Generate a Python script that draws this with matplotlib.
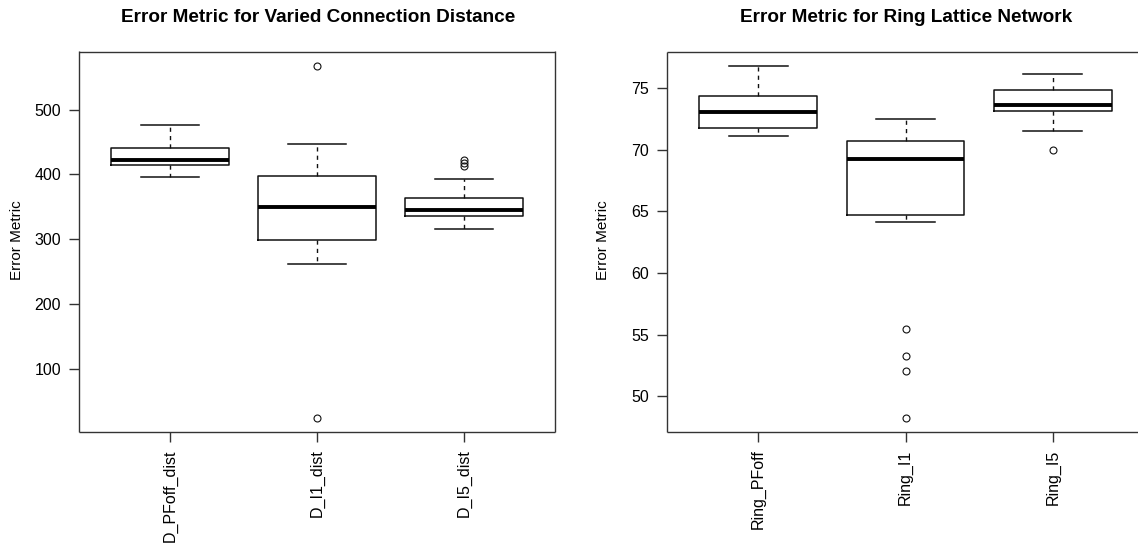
import numpy as np
import matplotlib.pyplot as plt

plt.rcParams['font.family'] = ['Liberation Sans', 'DejaVu Sans']

# DATA (box statistics)
dist_labels = ['D_PFoff_dist', 'D_I1_dist', 'D_I5_dist']
dist_whislo = [396, 261, 316]
dist_q1 = [414, 298.6, 335.6]
dist_med = [423, 349.4, 344.9]
dist_q3 = [440, 397, 363.5]
dist_whishi = [476, 447, 393]
dist_fliers = [[], [568, 24], [422, 418, 413]]

ring_labels = ['Ring_PFoff', 'Ring_I1', 'Ring_I5']
ring_whislo = [71.12, 64.15, 71.53]
ring_q1 = [71.77, 64.7, 73.13]
ring_med = [73.1, 69.23, 73.67]
ring_q3 = [74.35, 70.74, 74.89]
ring_whishi = [76.84, 72.48, 76.14]
ring_fliers = [[], [55.46, 53.3, 52.04, 48.25], [70.0]]

W, H = 1138, 544
fig = plt.figure(figsize=(W / 100, H / 100), dpi=100)


def px_axes(x0, x1, y0, y1):
    # pixel box (top-down) -> figure fractions
    return fig.add_axes([x0 / W, 1 - y1 / H, (x1 - x0) / W, (y1 - y0) / H])


def draw_panel(ax, labels, whislo, q1, med, q3, whishi, fliers, yticks, xmax):
    stats = []
    for i in range(len(labels)):
        stats.append(dict(whislo=whislo[i], q1=q1[i], med=med[i], q3=q3[i],
                          whishi=whishi[i], fliers=fliers[i], label=labels[i]))
    ax.bxp(stats, positions=[1, 2, 3], widths=0.8, capwidths=0.4,
           boxprops=dict(color='#111111', linewidth=1.1),
           medianprops=dict(color='black', linewidth=2.8, solid_capstyle='butt'),
           whiskerprops=dict(color='#111111', linewidth=1.0, linestyle=(0, (3, 3))),
           capprops=dict(color='#111111', linewidth=1.1),
           flierprops=dict(marker='o', markersize=5, markerfacecolor='none',
                           markeredgecolor='#111111', markeredgewidth=0.8))
    # R style: 4% padding around data range
    allv = list(whislo) + list(whishi) + [v for f in fliers for v in f]
    lo, hi = min(allv), max(allv)
    pad = (hi - lo) * 0.04
    ax.set_ylim(lo - pad, hi + pad)
    ax.set_xlim(0.38, xmax)
    ax.set_yticks(yticks)
    ax.set_yticklabels([str(t) for t in yticks])
    ax.set_xticks([1, 2, 3])
    ax.set_xticklabels(labels, rotation=90, va='top')
    ax.minorticks_off()
    ax.tick_params(axis='both', length=7, width=1, labelsize=11.5, color='#333333',
                   top=False, right=False)
    ax.tick_params(axis='y', pad=6)
    ax.tick_params(axis='x', pad=5.5)
    for s in ax.spines.values():
        s.set_color('#333333')
        s.set_linewidth(1.0)
        s.set_capstyle('butt')


ax1 = px_axes(79, 555, 51.5, 432)
draw_panel(ax1, dist_labels, dist_whislo, dist_q1, dist_med, dist_q3,
           dist_whishi, dist_fliers, [100, 200, 300, 400, 500], 3.62)

# right panel runs past the right edge of the picture (cropped)
ax2 = px_axes(667, 1144, 51.5, 432)
draw_panel(ax2, ring_labels, ring_whislo, ring_q1, ring_med, ring_q3,
           ring_whishi, ring_fliers, [50, 55, 60, 65, 70, 75], 3.62)

fig.text(318 / W, 1 - 17 / H, 'Error Metric for Varied Connection Distance',
         ha='center', va='center', fontsize=13.7, fontweight='bold')
fig.text(906 / W, 1 - 17 / H, 'Error Metric for Ring Lattice Network',
         ha='center', va='center', fontsize=13.7, fontweight='bold')
fig.text(17 / W, 1 - 240 / H, 'Error Metric', rotation=90,
         ha='center', va='center', fontsize=11)
fig.text(603 / W, 1 - 240 / H, 'Error Metric', rotation=90,
         ha='center', va='center', fontsize=11)

fig.savefig('out.png', dpi=100)
